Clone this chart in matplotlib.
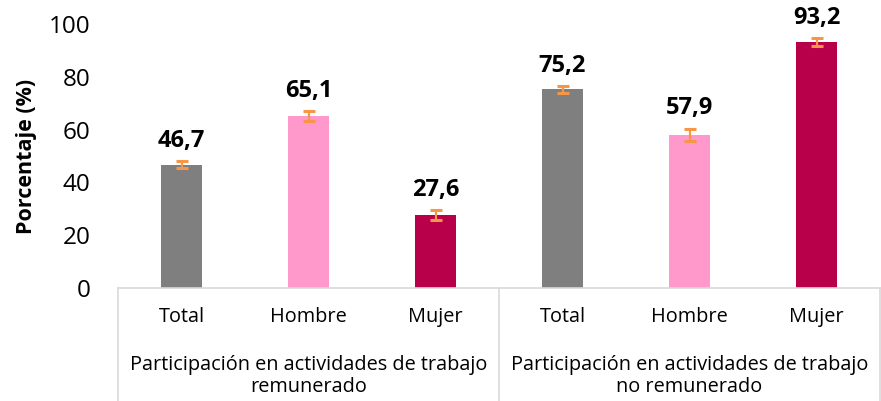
import matplotlib
matplotlib.use("Agg")
import matplotlib.pyplot as plt
from matplotlib.transforms import blended_transform_factory

plt.rcParams['font.family'] = ['Open Sans', 'DejaVu Sans']

categories = ["Total", "Hombre", "Mujer", "Total", "Hombre", "Mujer"]
groups = ["Participación en actividades de trabajo\nremunerado",
          "Participación en actividades de trabajo\nno remunerado"]
values = [46.7, 65.1, 27.6, 75.2, 57.9, 93.2]
errors = [1.4, 1.8, 2.0, 1.3, 2.4, 1.4]
labels = ["46,7", "65,1", "27,6", "75,2", "57,9", "93,2"]
colors = ["#7f7f7f", "#ff99cc", "#b8004a", "#7f7f7f", "#ff99cc", "#b8004a"]
yticks = [0, 20, 40, 60, 80, 100]

fig = plt.figure(figsize=(8.81, 4.01), dpi=100)
ax = fig.add_axes([118/881, 113/401, 762/881, 264/401])

x = list(range(len(values)))
ax.bar(x, values, width=0.32, color=colors, zorder=2)
ax.errorbar(x, values, yerr=errors, fmt='none', ecolor='#f79646',
            elinewidth=1.6, capsize=4, capthick=2.2, zorder=3)
for xi, v, e, lab in zip(x, values, errors, labels):
    ax.annotate(lab, (xi, v + e), xytext=(0, 6), textcoords='offset points',
                ha='center', va='bottom', fontsize=17, fontweight='bold')

ax.set_xlim(-0.5, 5.5)
ax.set_ylim(0, 100)
ax.set_yticks(yticks)
ax.set_yticklabels([str(t) for t in yticks], fontsize=17.5)
ax.tick_params(axis='y', length=0, pad=20)
ax.set_xticks(x)
ax.set_xticklabels(categories, fontsize=14.3)
ax.tick_params(axis='x', length=0, pad=14)
ax.set_ylabel("Porcentaje (%)", fontsize=15.5, fontweight='bold', labelpad=8)

for s in ['top', 'right', 'left']:
    ax.spines[s].set_visible(False)
ax.spines['bottom'].set_color('#d9d9d9')
ax.spines['bottom'].set_linewidth(1.2)

trans = blended_transform_factory(ax.transData, ax.transAxes)
for xb in [-0.5, 2.5, 5.5]:
    ax.plot([xb, xb], [0, -0.45], transform=trans, color='#d9d9d9',
            lw=1.2, clip_on=False)
for gi, g in enumerate(groups):
    ax.text(gi * 3 + 1, -0.252, g, transform=trans, ha='center', va='top',
            fontsize=14.3, linespacing=1.15)

fig.savefig("out.png", dpi=100)
